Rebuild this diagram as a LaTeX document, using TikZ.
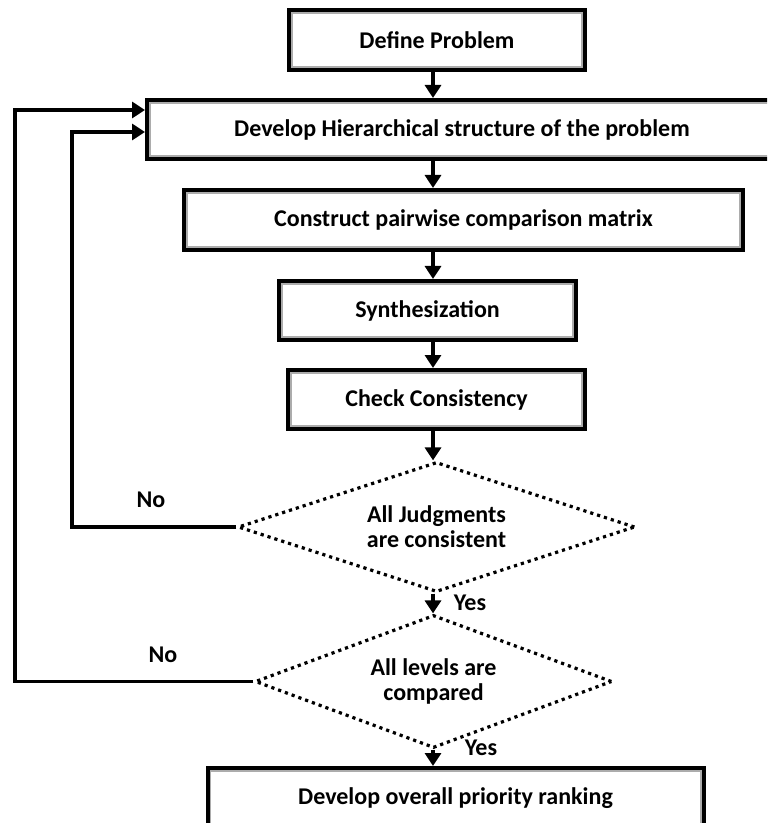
\documentclass[tikz,border=0pt]{standalone}
\usepackage{fontspec}
\setmainfont{Carlito}
\usetikzlibrary{shapes.geometric,arrows.meta,calc}

\begin{document}
\begin{tikzpicture}[x=0.5pt,y=-0.5pt,
  every node/.style={font=\fontsize{12}{12.5}\selectfont\bfseries},
  stepbox/.style={draw,line width=2pt,inner sep=0pt,
    path picture={\draw[gray!65,line width=0.8pt]
      ([shift={(1.4pt,-1.4pt)}]path picture bounding box.north west) rectangle
      ([shift={(-1.4pt,1.4pt)}]path picture bounding box.south east);}},
  decision/.style={diamond,draw,line width=1.6pt,dash pattern=on 1.6pt off 2pt,
    aspect=3,inner sep=0pt,align=center},
  arr/.style={line width=1.8pt,-{Triangle[length=6.5pt,width=8pt]}},
  lbl/.style={}]

  \clip (0,0) rectangle (767,823);

% process boxes
  \node[stepbox,minimum width=148pt,minimum height=30pt] (define) at (437,40) {Define Problem};
  \node[stepbox,minimum width=315pt,minimum height=29.5pt] (hier) at (462,129.5) {Develop Hierarchical structure of the problem};
  \node[stepbox,minimum width=279.5pt,minimum height=30pt] (pairwise) at (463.5,220) {Construct pairwise comparison matrix};
  \node[stepbox,minimum width=148.5pt,minimum height=29.5pt] (synth) at (427.5,310.5) {Synthesization};
  \node[stepbox,minimum width=148.5pt,minimum height=29.5pt] (check) at (436.5,399.5) {Check Consistency};
  \node[stepbox,minimum width=248pt,minimum height=30pt] (ranking) at (455.5,798) {Develop overall priority ranking};

% decisions
  \node[decision,minimum width=198.5pt,minimum height=65pt] (judge) at (436.5,527) {All Judgments\\are consistent};
  \node[decision,minimum width=178.5pt,minimum height=66.5pt] (levels) at (433.5,681.5) {All levels are\\compared};

% main flow
  \coordinate (spine) at (433,0);
  \draw[arr] (spine |- define.south) -- (spine |- hier.north);
  \draw[arr] (spine |- hier.south) -- (spine |- pairwise.north);
  \draw[arr] (spine |- pairwise.south) -- (spine |- synth.north);
  \draw[arr] (spine |- synth.south) -- (spine |- check.north);
  \draw[arr] (spine |- check.south) -- (spine |- judge.north);
  \draw[arr] (spine |- judge.south) -- (spine |- levels.north);
  \draw[arr] (spine |- levels.south) -- (spine |- ranking.north);

% feedback loops
  \coordinate (loopA) at (72,0);
  \coordinate (loopB) at (15,0);
  \draw[arr] (judge.west) -- (judge.west -| loopA) |- ($(hier.west)+(0,2.5)$);
  \draw[arr] (levels.west) -- (levels.west -| loopB) |- ($(hier.west)+(0,-19.5)$);

% labels
  \node[lbl] (no1) at (151,500) {No};
  \node[lbl] (no2) at (163,655) {No};
  \node[lbl] (yes1) at (470,603) {Yes};
  \node[lbl] (yes2) at (481,748) {Yes};

\end{tikzpicture}
\end{document}
